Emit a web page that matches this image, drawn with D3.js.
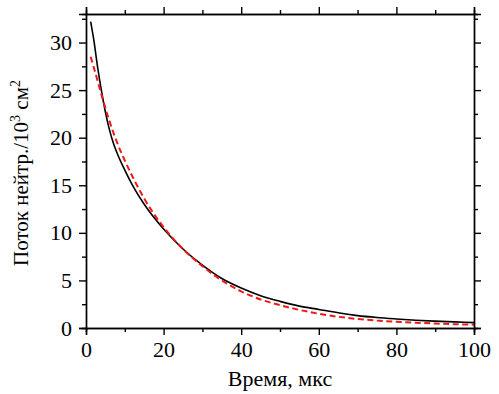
<!DOCTYPE html>
<html>
<head>
<meta charset="utf-8">
<script src="https://cdn.jsdelivr.net/npm/d3@7"></script>
<style>
  body { margin: 0; background: #fff; }
  text { font-family: "Liberation Serif", "DejaVu Serif", serif; fill: #000; }
</style>
</head>
<body>
<svg id="chart"></svg>
<script>
// Data
const timeMeasured = [1.2, 2, 3, 4, 5, 6, 7, 8, 10, 12, 15, 20, 25, 30, 35, 40, 45, 50, 55, 60, 65, 70, 75, 80, 85, 90, 95, 100];
const fluxMeasured = [32.2, 30.3, 27.4, 24.9, 22.7, 20.9, 19.5, 18.4, 16.6, 15.0, 13.0, 10.4, 8.3, 6.6, 5.2, 4.2, 3.4, 2.8, 2.3, 1.95, 1.6, 1.3, 1.1, 0.95, 0.82, 0.72, 0.64, 0.56];

const timeFit = [1.2, 2, 4, 6, 8, 10, 12, 15, 20, 25, 30, 35, 40, 45, 50, 55, 60, 65, 70, 75, 80, 85, 90, 95, 100];
const fluxFit = [28.5, 27.4, 24.5, 21.8, 19.5, 17.6, 15.9, 13.6, 10.6, 8.3, 6.5, 5.0, 3.85, 3.0, 2.4, 1.9, 1.5, 1.18, 0.95, 0.78, 0.66, 0.56, 0.47, 0.4, 0.35];

const xTicks = [0, 20, 40, 60, 80, 100];
const xMinor = [10, 30, 50, 70, 90];
const yTicks = [0, 5, 10, 15, 20, 25, 30];
const yMinor = [2.5, 7.5, 12.5, 17.5, 22.5, 27.5, 32.5];

const margin = {top: 14, right: 25, bottom: 66, left: 86},
    width = 499 - margin.left - margin.right,
    height = 394 - margin.top - margin.bottom;

const root = d3.select("#chart")
    .attr("width", 499)
    .attr("height", 394);

const svg = root.append("g")
    .attr("transform", `translate(${margin.left},${margin.top})`);

const x = d3.scaleLinear().domain([0, 100]).range([0, width]);
const y = d3.scaleLinear().domain([0, 33]).range([height, 0]);

// curves
const line = d3.line()
    .x(d => x(d[0]))
    .y(d => y(d[1]))
    .curve(d3.curveMonotoneX);

svg.append("path")
    .datum(d3.zip(timeMeasured, fluxMeasured))
    .attr("fill", "none")
    .attr("stroke", "#000")
    .attr("stroke-width", 1.6)
    .attr("d", line);

svg.append("path")
    .datum(d3.zip(timeFit, fluxFit))
    .attr("fill", "none")
    .attr("stroke", "#f01818")
    .attr("stroke-width", 2)
    .attr("stroke-dasharray", "6,3.5")
    .attr("d", line);

// axes: major + minor ticks on all four sides, pointing outward
function styleAxis(g) {
    g.select(".domain").attr("stroke-width", 1.4);
    g.selectAll(".tick line").attr("stroke-width", 1.4);
    g.selectAll("text")
        .style("font-family", '"Liberation Serif", "DejaVu Serif", serif')
        .style("font-size", "22px");
}

svg.append("g")
    .attr("transform", `translate(0,${height})`)
    .call(d3.axisBottom(x).tickValues(xTicks).tickSize(7).tickPadding(6).tickFormat(d3.format("d")))
    .call(styleAxis);
svg.append("g")
    .attr("transform", `translate(0,${height})`)
    .call(d3.axisBottom(x).tickValues(xMinor).tickSize(4).tickFormat(""))
    .call(styleAxis);

svg.append("g")
    .call(d3.axisTop(x).tickValues(xTicks).tickSize(7).tickFormat(""))
    .call(styleAxis);
svg.append("g")
    .call(d3.axisTop(x).tickValues(xMinor).tickSize(4).tickFormat(""))
    .call(styleAxis);

svg.append("g")
    .call(d3.axisLeft(y).tickValues(yTicks).tickSize(7).tickPadding(7).tickFormat(d3.format("d")))
    .call(styleAxis);
svg.append("g")
    .call(d3.axisLeft(y).tickValues(yMinor).tickSize(4).tickFormat(""))
    .call(styleAxis);

svg.append("g")
    .attr("transform", `translate(${width},0)`)
    .call(d3.axisRight(y).tickValues(yTicks).tickSize(7).tickFormat(""))
    .call(styleAxis);
svg.append("g")
    .attr("transform", `translate(${width},0)`)
    .call(d3.axisRight(y).tickValues(yMinor).tickSize(4).tickFormat(""))
    .call(styleAxis);

// axis labels
svg.append("text")
    .attr("x", width / 2)
    .attr("y", height + 58)
    .style("text-anchor", "middle")
    .style("font-size", "22px")
    .text("Время, мкс");

const yl = svg.append("text")
    .attr("transform", `translate(${-58},${height / 2 + 2}) rotate(-90)`)
    .style("text-anchor", "middle")
    .style("font-size", "21px");
yl.append("tspan").text("Поток нейтр./10");
yl.append("tspan").attr("dy", -8).style("font-size", "14px").text("3");
yl.append("tspan").attr("dy", 8).text(" см");
yl.append("tspan").attr("dy", -8).style("font-size", "14px").text("2");
</script>
</body>
</html>
